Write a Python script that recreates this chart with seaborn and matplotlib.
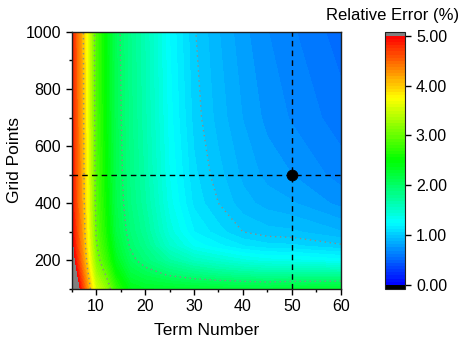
import numpy as np
import matplotlib
matplotlib.use("Agg")
import matplotlib.pyplot as plt
from matplotlib.colors import LinearSegmentedColormap
from matplotlib.ticker import MultipleLocator, FormatStrFormatter
import seaborn as sns

# ---- data ----
term_number = [5, 6, 7, 8, 9, 10, 12, 14, 17, 20, 25, 30, 35, 40, 45, 50, 60]
grid_points = [100, 125, 150, 175, 200, 250, 300, 400, 500, 700, 1000]
# relative error (%) : one row per grid-points value, one column per term number
err_100  = [5.60, 5.22, 4.80, 4.37, 3.93, 3.52, 3.22, 2.75, 2.38, 2.32, 2.30, 2.27, 2.25, 2.22, 2.21, 2.25, 2.28]
err_125  = [5.50, 5.12, 4.71, 4.29, 3.84, 3.42, 3.11, 2.65, 2.30, 2.22, 2.15, 2.09, 2.05, 2.02, 2.00, 2.02, 2.03]
err_150  = [5.39, 5.01, 4.61, 4.19, 3.74, 3.31, 2.99, 2.54, 2.21, 2.11, 1.98, 1.89, 1.83, 1.78, 1.75, 1.76, 1.75]
err_175  = [5.29, 4.91, 4.52, 4.10, 3.65, 3.22, 2.88, 2.45, 2.13, 2.01, 1.84, 1.72, 1.64, 1.58, 1.54, 1.54, 1.51]
err_200  = [5.20, 4.82, 4.44, 4.02, 3.57, 3.14, 2.78, 2.37, 2.06, 1.92, 1.70, 1.55, 1.47, 1.39, 1.34, 1.33, 1.28]
err_250  = [5.10, 4.72, 4.35, 3.93, 3.48, 3.04, 2.67, 2.27, 1.98, 1.82, 1.50, 1.30, 1.21, 1.13, 1.09, 1.08, 1.02]
err_300  = [5.04, 4.66, 4.30, 3.88, 3.43, 2.98, 2.60, 2.19, 1.93, 1.76, 1.41, 1.19, 1.09, 1.00, 0.96, 0.95, 0.88]
err_400  = [4.98, 4.60, 4.24, 3.83, 3.37, 2.93, 2.54, 2.14, 1.88, 1.70, 1.34, 1.11, 1.00, 0.90, 0.85, 0.82, 0.73]
err_500  = [4.95, 4.57, 4.22, 3.81, 3.35, 2.90, 2.51, 2.12, 1.86, 1.67, 1.31, 1.08, 0.96, 0.86, 0.79, 0.75, 0.66]
err_700  = [4.92, 4.54, 4.19, 3.78, 3.32, 2.87, 2.47, 2.10, 1.84, 1.64, 1.28, 1.04, 0.91, 0.81, 0.73, 0.68, 0.59]
err_1000 = [4.90, 4.52, 4.17, 3.76, 3.30, 2.85, 2.45, 2.08, 1.82, 1.62, 1.25, 1.01, 0.88, 0.77, 0.69, 0.635, 0.53]

selected_term = [50]
selected_grid = [500]
line_levels = [1, 2, 3, 4]
cbar_ticks = [0, 1, 2, 3, 4, 5]

# ---- styling ----
sns.set_style("ticks")
plt.rcParams["font.family"] = ["Liberation Sans", "DejaVu Sans"]
for key in ["text.color", "axes.labelcolor", "xtick.color", "ytick.color",
            "xtick.labelcolor", "ytick.labelcolor"]:
    plt.rcParams[key] = "black"

E = np.array([err_100, err_125, err_150, err_175, err_200, err_250,
              err_300, err_400, err_500, err_700, err_1000])
X, Y = np.meshgrid(term_number, grid_points)

cmap = LinearSegmentedColormap.from_list(
    "origin_rainbow", ["#0000ff", "#00ffff", "#00ff00", "#ffff00", "#ff0000"])
cmap.set_over("#808080")
cmap.set_under("#000000")

fig = plt.figure(figsize=(4.65, 3.47), dpi=100)
ax = fig.add_axes([0.154, 0.167, 0.579, 0.741])
cax = fig.add_axes([0.828, 0.168, 0.044, 0.740])

levels = np.linspace(0, 5, 81)
cf = ax.contourf(X, Y, E, levels=levels, cmap=cmap, extend="both")
ax.contour(X, Y, E, levels=line_levels, colors="#8a8a8a",
           linewidths=1.0, linestyles=[(0, (1, 2.6))])

ax.axvline(selected_term[0], color="black", lw=1.0, ls=(0, (4, 3)), zorder=4)
ax.axhline(selected_grid[0], color="black", lw=1.0, ls=(0, (4, 3)), zorder=4)
sns.scatterplot(x=selected_term, y=selected_grid, ax=ax, color="black",
                s=60, edgecolor="black", zorder=5, legend=False)

ax.set_xlim(5, 60)
ax.set_ylim(100, 1000)
ax.xaxis.set_minor_locator(MultipleLocator(5))
ax.yaxis.set_minor_locator(MultipleLocator(100))
ax.set_xticks([10, 20, 30, 40, 50, 60])
ax.set_yticks([200, 400, 600, 800, 1000])
ax.tick_params(which="major", direction="out", length=4, width=1,
               labelsize=11.5, color="black", labelcolor="black")
ax.tick_params(which="minor", direction="out", length=2.5, width=1, color="black")
for s in ax.spines.values():
    s.set_visible(True)
    s.set_color("#202020")
    s.set_linewidth(1.0)
ax.set_xlabel("Term Number", fontsize=12.5, labelpad=6, color="black")
ax.set_ylabel("Grid Points", fontsize=12.5, labelpad=3, color="black")

cb = fig.colorbar(cf, cax=cax, extend="both", extendrect=True,
                  extendfrac=0.016, ticks=cbar_ticks)
cb.ax.yaxis.set_major_formatter(FormatStrFormatter("%.2f"))
cb.ax.tick_params(direction="out", length=4, width=1, labelsize=11.5,
                  color="black", labelcolor="black")
cb.ax.minorticks_off()
cb.outline.set_linewidth(0.8)
cb.outline.set_edgecolor("#202020")
fig.text(0.845, 0.955, "Relative Error (%)", ha="center", va="center",
         fontsize=12, color="black")

fig.savefig("out.png", dpi=100)
